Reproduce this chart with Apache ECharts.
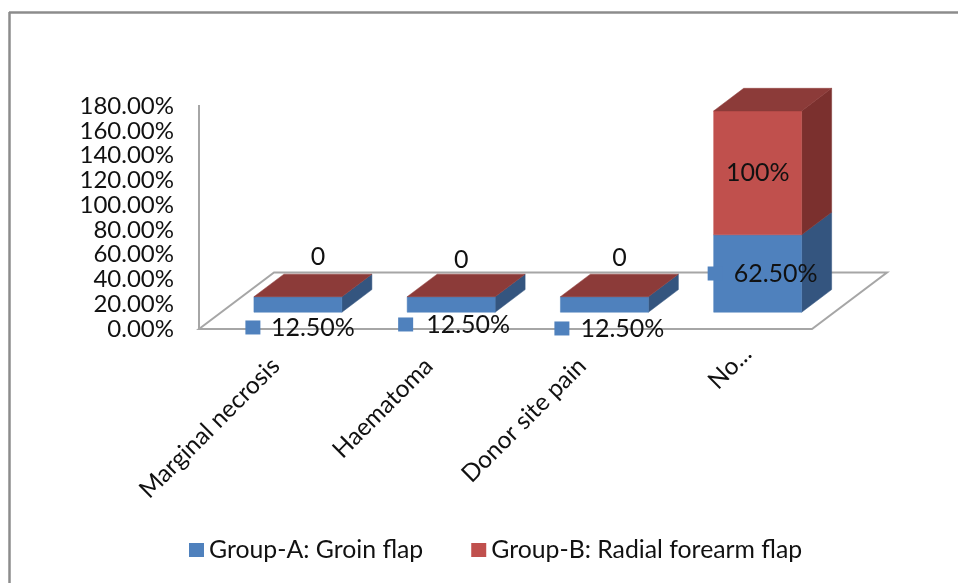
<!DOCTYPE html>
<html>
<head>
<meta charset="utf-8">
<style>html,body{margin:0;padding:0;background:#fff}#chart{width:958px;height:583px}</style>
<script src="https://cdn.jsdelivr.net/npm/echarts@6/dist/echarts.min.js"></script>
</head>
<body>
<div id="chart"></div>
<script>
// Complication rates by flap type
const categories = ['Marginal necrosis', 'Haematoma', 'Donor site pain', 'No...'];
const groupA = [12.5, 12.5, 12.5, 62.5];
const groupB = [0, 0, 0, 100];
const yTicks = { min: 0, max: 180, interval: 20 };
const nameA = 'Group-A: Groin flap';
const nameB = 'Group-B: Radial forearm flap';

// Oblique projection of the chart floor
const FLOOR_DX = 75, FLOOR_DY = -56.5;
const BAR_LIFT = 0.297, BAR_DEPTH = 0.4, BAR_RATIO = 0.574;
const FONT = 'Lato, "Noto Sans", sans-serif';

// Hand-placed data label offsets from each segment's centre; the third entry
// is the distance from the label's centre back to its legend key
const nudgeA = [[15, 23, 60], [17, 20, 62.5], [18, 24, 60.5], [18, 0, 60.5]];
const nudgeB = [[20, -40], [10, -37], [15, -39], [0, 0]];

const palette = {
  a: { front: '#4F81BD', side: '#34557F', top: '#3F6797' },
  b: { front: '#C0504D', side: '#7B302E', top: '#8C3B39' }
};

function poly(points, fill) {
  return { type: 'polygon', shape: { points }, style: { fill, stroke: fill, lineWidth: 0.5 } };
}

function prism(api, base, value, colors, showTop) {
  const idx = api.value(0);
  const w = api.size([1, 0])[0] * BAR_RATIO;
  const cx = api.coord([idx, 0])[0] + FLOOR_DX * BAR_LIFT;
  const lift = FLOOR_DY * BAR_LIFT;
  const y0 = api.coord([idx, base])[1] + lift;
  const y1 = api.coord([idx, base + value])[1] + lift;
  const dx = FLOOR_DX * BAR_DEPTH, dy = FLOOR_DY * BAR_DEPTH;
  const l = cx - w / 2, r = cx + w / 2;
  const parts = [];
  if (value > 0) {
    parts.push(poly([[r, y0], [r + dx, y0 + dy], [r + dx, y1 + dy], [r, y1]], colors.side));
    parts.push(poly([[l, y0], [r, y0], [r, y1], [l, y1]], colors.front));
  }
  if (showTop) {
    parts.push(poly([[l, y1], [r, y1], [r + dx, y1 + dy], [l + dx, y1 + dy]], colors.top));
  }
  return { cx, mid: (y0 + y1) / 2, parts };
}

function labelText(x, y, text) {
  return {
    type: 'text', z2: 20,
    style: { x, y, text, fill: '#111', font: '25px ' + FONT, align: 'center', verticalAlign: 'middle' }
  };
}

function renderA(params, api) {
  const i = api.value(0), v = api.value(1);
  const p = prism(api, 0, v, palette.a, false);
  const tx = p.cx + nudgeA[i][0], ty = p.mid + nudgeA[i][1];
  return {
    type: 'group',
    children: p.parts.concat([
      { type: 'rect', z2: 20, shape: { x: tx - nudgeA[i][2] - 7.5, y: ty - 7, width: 15, height: 14 }, style: { fill: palette.a.front } },
      labelText(tx, ty, v.toFixed(2) + '%')
    ])
  };
}

function renderB(params, api) {
  const i = api.value(0), v = api.value(1);
  const p = prism(api, groupA[i], v, palette.b, true);
  return {
    type: 'group',
    children: p.parts.concat([
      labelText(p.cx + nudgeB[i][0], p.mid + nudgeB[i][1], v === 0 ? '0' : v + '%')
    ])
  };
}

// Floor outline and the value axis line, taken from the grid rectangle
function renderFrame(params, api) {
  const g = params.coordSys;
  const b = g.y + g.height, l = g.x, r = g.x + g.width;
  const line = { stroke: '#A6A6A6', lineWidth: 2, fill: null };
  return {
    type: 'group',
    children: [
      { type: 'polygon', shape: { points: [[l, b], [l + FLOOR_DX, b + FLOOR_DY], [r + FLOOR_DX, b + FLOOR_DY], [r, b]] }, style: line },
      { type: 'line', shape: { x1: l, y1: g.y - 1, x2: l, y2: b }, style: line }
    ]
  };
}

const chart = echarts.init(document.getElementById('chart'));
chart.setOption({
  animation: false,
  backgroundColor: '#fff',
  graphic: [
    { type: 'line', shape: { x1: 9, y1: 12.5, x2: 958, y2: 12.5 }, style: { stroke: '#8C8C8C', lineWidth: 2.5 } },
    { type: 'line', shape: { x1: 9.5, y1: 12, x2: 9.5, y2: 583 }, style: { stroke: '#8C8C8C', lineWidth: 2.5 } }
  ],
  grid: { left: 199, width: 613, top: 106, height: 223 },
  xAxis: {
    type: 'category',
    // the truncated last label sits further along its slant than the others
    data: categories.map((name, i) => i === categories.length - 1
      ? { value: name, textStyle: { padding: [0, -17, 0, 0] } }
      : name),
    axisLine: { show: false },
    axisTick: { show: false },
    axisLabel: { rotate: 45, margin: 33, interval: 0, color: '#111', fontFamily: FONT, fontSize: 24.4 }
  },
  yAxis: {
    type: 'value',
    min: yTicks.min, max: yTicks.max, interval: yTicks.interval,
    axisLine: { show: false },
    axisTick: { show: false },
    splitLine: { show: false },
    axisLabel: {
      margin: 25, color: '#111', fontFamily: FONT, fontSize: 24,
      formatter: v => v.toFixed(2) + '%'
    }
  },
  legend: {
    left: 184, top: 532.5,
    itemWidth: 15, itemHeight: 14, itemGap: 48,
    icon: 'rect',
    textStyle: { color: '#111', fontFamily: FONT, fontSize: 24.8 },
    data: [nameA, nameB]
  },
  series: [
    { type: 'custom', silent: true, renderItem: renderFrame, data: [0], clip: false, z: 1 },
    { name: nameA, type: 'custom', renderItem: renderA, itemStyle: { color: palette.a.front },
      encode: { x: 0, y: 1 }, data: groupA.map((v, i) => [i, v]), clip: false, z: 2 },
    { name: nameB, type: 'custom', renderItem: renderB, itemStyle: { color: palette.b.front },
      encode: { x: 0, y: 1 }, data: groupB.map((v, i) => [i, v]), clip: false, z: 3 }
  ]
});
</script>
</body>
</html>
